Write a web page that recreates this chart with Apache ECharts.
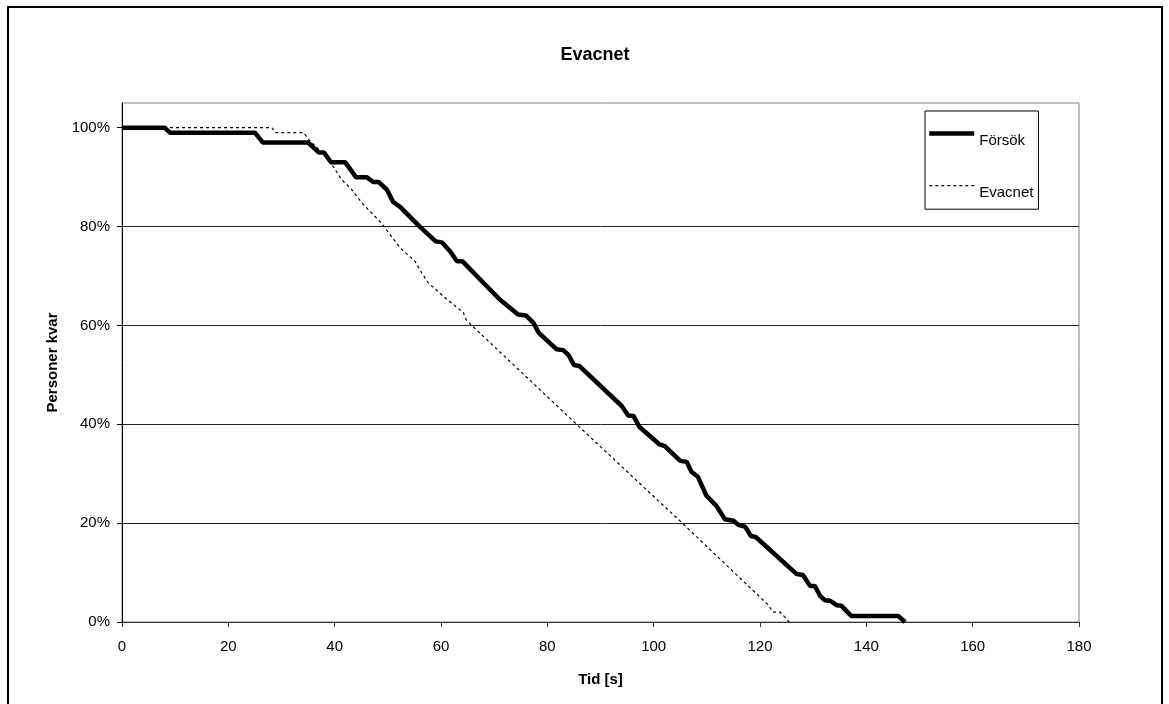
<!DOCTYPE html>
<html>
<head>
<meta charset="utf-8">
<title>Evacnet</title>
<script src="https://cdn.jsdelivr.net/npm/echarts@6/dist/echarts.min.js"></script>
<style>
  html, body { margin: 0; padding: 0; background: #fff; }
  #chart { width: 1169px; height: 704px; }
</style>
</head>
<body>
<div id="chart"></div>
<script>
// tid [s], andel personer kvar [%]
var forsok = [
  [0, 100], [8, 100], [9, 99], [25, 99], [26.5, 97], [35, 97], [37, 95], [38, 95],
  [39.3, 93], [42, 93], [44, 90], [46, 90], [47.3, 89], [48.3, 89], [49.8, 87.5],
  [51, 85], [52.3, 84], [56, 80], [59, 77], [60.2, 76.8], [61.7, 75], [63, 73],
  [64, 73], [71, 65.3], [74.5, 62.2], [76, 62], [77.4, 60.5], [78.4, 58.5],
  [81.7, 55.2], [83, 55], [84, 54], [85, 52], [86, 51.8], [94, 43.7], [95.2, 41.8],
  [96.2, 41.7], [97.3, 39.5], [101, 36], [102.1, 35.6], [105, 32.6], [106.2, 32.4],
  [107.1, 30.4], [108.3, 29.4], [109.9, 25.6], [111.8, 23.5], [113.4, 20.8],
  [115, 20.5], [116, 19.6], [117.2, 19.3], [118.3, 17.4], [119.2, 17.2],
  [126.9, 9.7], [128.1, 9.5], [129.4, 7.3], [130.3, 7.3], [131.3, 5.3],
  [132.2, 4.4], [133.2, 4.3], [134.4, 3.4], [135.3, 3.3], [137.2, 1.2],
  [146, 1.2], [147.3, 0]
];
var evacnet = [
  [0, 100], [28.2, 100], [28.8, 99], [34.1, 99], [35.4, 97.3], [37.6, 95],
  [39.7, 92.2], [41.3, 89.5], [43.2, 87.5], [45.1, 84.8], [48.8, 80.7],
  [50.4, 78.4], [52.3, 75.7], [55.1, 73], [56.4, 70.6], [57.6, 68.6],
  [61.1, 65.3], [64.2, 62.6], [64.8, 61], [85.2, 40.3], [100.2, 25.2],
  [104.9, 20.5], [121.5, 3.5], [122.5, 2], [123.8, 2], [125.5, 0]
];
var yTicks = [0, 20, 40, 60, 80, 100];

var font = 'Liberation Sans, Arial, sans-serif';
var myChart = echarts.init(document.getElementById('chart'));
myChart.setOption({
  backgroundColor: '#fff',
  animation: false,
  title: {
    text: 'Evacnet',
    left: 590,
    top: 41,
    textAlign: 'center',
    textStyle: { fontFamily: font, fontSize: 18, fontWeight: 'bold', color: '#000' }
  },
  legend: {
    orient: 'vertical',
    left: 925,
    top: 111,
    padding: [17, 5, 9, 2],
    itemWidth: 45,
    itemHeight: 14,
    itemGap: 32,
    backgroundColor: '#fff',
    borderColor: '#000',
    borderWidth: 1,
    borderRadius: 0,
    itemStyle: { opacity: 0 },
    lineStyle: { width: 'inherit' },
    formatter: '{a|{name}}',
    textStyle: {
      fontFamily: font, fontSize: 15, color: '#000',
      rich: { a: { fontFamily: font, fontSize: 15, color: '#000', padding: [14, 0, 0, 0] } }
    },
    data: ['Försök', 'Evacnet']
  },
  grid: {
    left: 122,
    top: 103,
    right: 90,
    bottom: 82,
    show: true,
    borderColor: '#808080',
    borderWidth: 1
  },
  xAxis: {
    type: 'value',
    min: 0,
    max: 180,
    interval: 20,
    name: 'Tid [s]',
    nameLocation: 'middle',
    nameGap: 50,
    nameTextStyle: { fontFamily: font, fontSize: 15, fontWeight: 'bold', color: '#000' },
    axisLine: { lineStyle: { color: '#333', width: 1 } },
    axisTick: { show: true, length: 5, lineStyle: { color: '#333' } },
    axisLabel: { fontFamily: font, fontSize: 15, color: '#000', margin: 17 },
    splitLine: { show: false }
  },
  yAxis: {
    type: 'value',
    min: 0,
    max: 105,
    interval: 20,
    name: 'Personer kvar',
    nameLocation: 'middle',
    nameGap: 62,
    nameTextStyle: { fontFamily: font, fontSize: 15, fontWeight: 'bold', color: '#000' },
    axisLine: { show: true, lineStyle: { color: '#000', width: 1 } },
    axisTick: { show: true, length: 5, customValues: yTicks, lineStyle: { color: '#000' } },
    axisLabel: {
      fontFamily: font, fontSize: 15, color: '#000', margin: 12,
      customValues: yTicks,
      formatter: function (v) { return v > 100 ? '' : v + '%'; }
    },
    splitLine: { show: true, showMaxLine: false, lineStyle: { color: '#222', width: 1 } }
  },
  series: [
    {
      name: 'Försök',
      type: 'line',
      data: forsok,
      symbol: 'none',
      z: 3,
      lineStyle: { color: '#000', width: 4.5, type: 'solid' },
      itemStyle: { color: '#000' }
    },
    {
      name: 'Evacnet',
      type: 'line',
      data: evacnet,
      symbol: 'none',
      z: 2,
      lineStyle: { color: '#000', width: 1.2, type: [3, 3] },
      itemStyle: { color: '#000' }
    }
  ],
  graphic: [
    {
      type: 'rect',
      silent: true,
      shape: { x: 8, y: 7, width: 1154, height: 720 },
      style: { fill: 'none', stroke: '#000', lineWidth: 2 }
    }
  ]
});
</script>
</body>
</html>
